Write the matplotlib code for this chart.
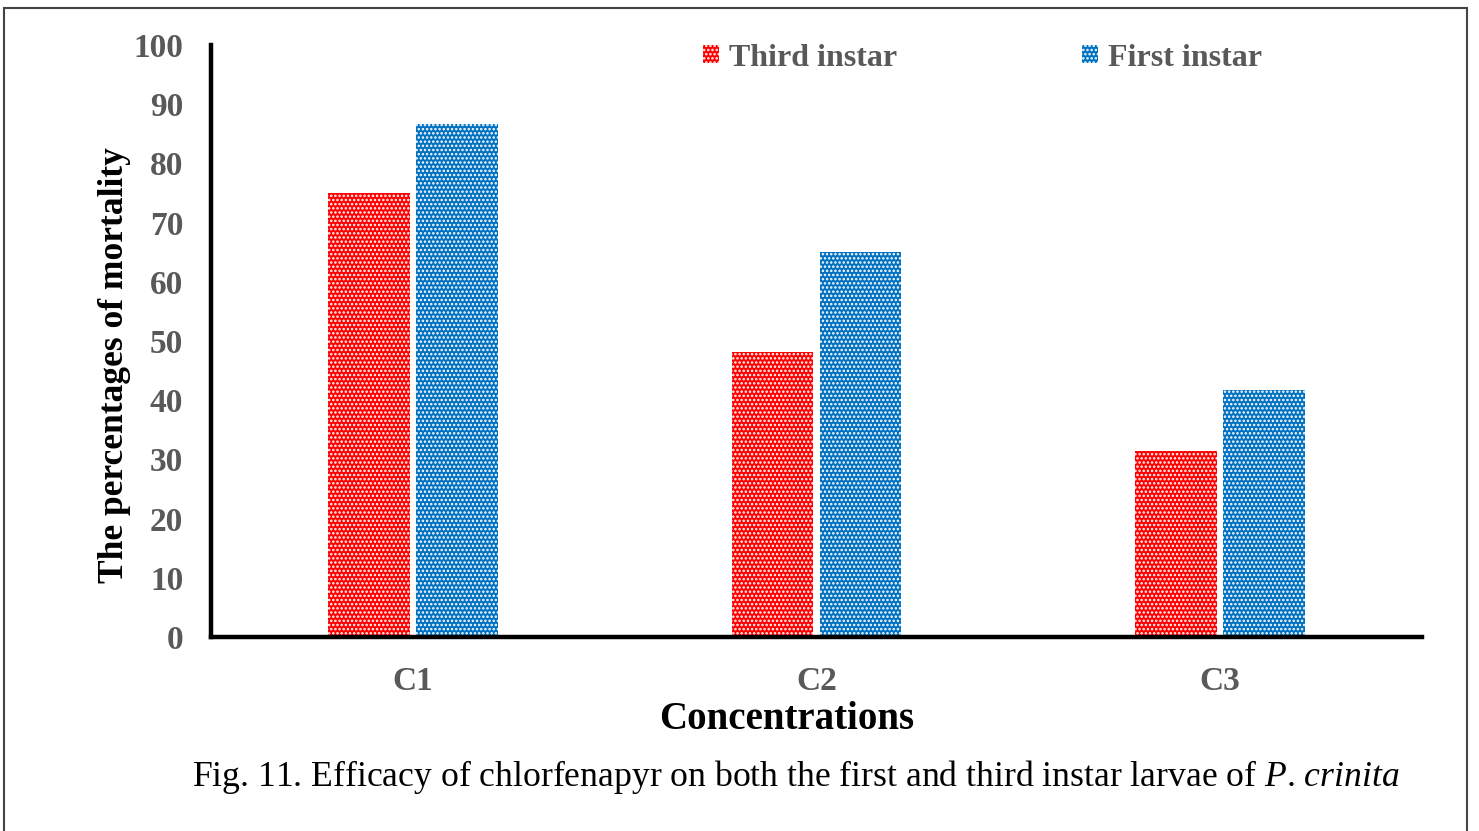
import numpy as np
import matplotlib
matplotlib.use("Agg")
import matplotlib.pyplot as plt
from matplotlib.patches import Rectangle

categories = ["C1", "C2", "C3"]
third_instar = [75.0, 48.1, 31.4]
first_instar = [86.7, 65.0, 41.7]
y_ticks = [0, 10, 20, 30, 40, 50, 60, 70, 80, 90, 100]

plt.rcParams["font.family"] = ["Liberation Serif", "DejaVu Serif"]
plt.rcParams["mathtext.fontset"] = "custom"
plt.rcParams["mathtext.rm"] = "Liberation Serif"
plt.rcParams["mathtext.it"] = "Liberation Serif:italic"
plt.rcParams["hatch.linewidth"] = 1.2

GREY = "#595959"

fig = plt.figure(figsize=(14.79, 8.31), dpi=100)
ax = fig.add_axes([211 / 1479, 1 - 637 / 831, (1422 - 211) / 1479, (637 - 45) / 831])

x = np.arange(len(categories))
w = 0.203
off = 0.109
ax.bar(x - off, third_instar, w, color="#FF0000", edgecolor="white",
       linewidth=0, hatch="....", label="Third instar")
ax.bar(x + off, first_instar, w, color="#0070C0", edgecolor="white",
       linewidth=0, hatch="....", label="First instar")

ax.set_xlim(-0.5, 2.5)
ax.set_ylim(0, 100)
ax.set_xticks(x)
ax.set_xticklabels(categories)
ax.set_yticks(y_ticks)
ax.tick_params(length=0, labelsize=24, labelcolor=GREY)
ax.tick_params(axis="y", pad=20)
ax.tick_params(axis="x", pad=21)
for lbl in ax.get_xticklabels() + ax.get_yticklabels():
    lbl.set_fontweight("bold")

for s in ["top", "right"]:
    ax.spines[s].set_visible(False)
for s in ["left", "bottom"]:
    ax.spines[s].set_linewidth(3.2)
    ax.spines[s].set_color("black")

ax.set_ylabel("The percentages of mortality", fontsize=25.5, fontweight="bold")
ax.yaxis.set_label_coords(-0.066, 0.46)
ax.set_xlabel("Concentrations", fontsize=28, fontweight="bold")
ax.xaxis.set_label_coords(0.475, -0.108)

leg = ax.legend(ncol=2, loc="center left", bbox_to_anchor=(703 / 1479, 1 - 58 / 831),
                bbox_transform=fig.transFigure, frameon=False, fontsize=23,
                handlelength=0.5, handleheight=0.5, handletextpad=0.3,
                columnspacing=5.8, borderpad=0, borderaxespad=0)
for t in leg.get_texts():
    t.set_color(GREY)
    t.set_fontweight("bold")

fig.text(192 / 1479, 1 - 777 / 831,
         r"Fig. 11. Efficacy of chlorfenapyr on both the first and third instar larvae of $\mathit{P}$. $\mathit{crinita}$",
         fontsize=25.7, ha="left", va="center", color="black")

fig.patches.append(Rectangle((4 / 1479, -0.05), (1467 - 4) / 1479, 1 - 8 / 831 + 0.05,
                             transform=fig.transFigure, fill=False,
                             edgecolor="#444444", linewidth=1.5))

fig.savefig("out.png", dpi=100)
